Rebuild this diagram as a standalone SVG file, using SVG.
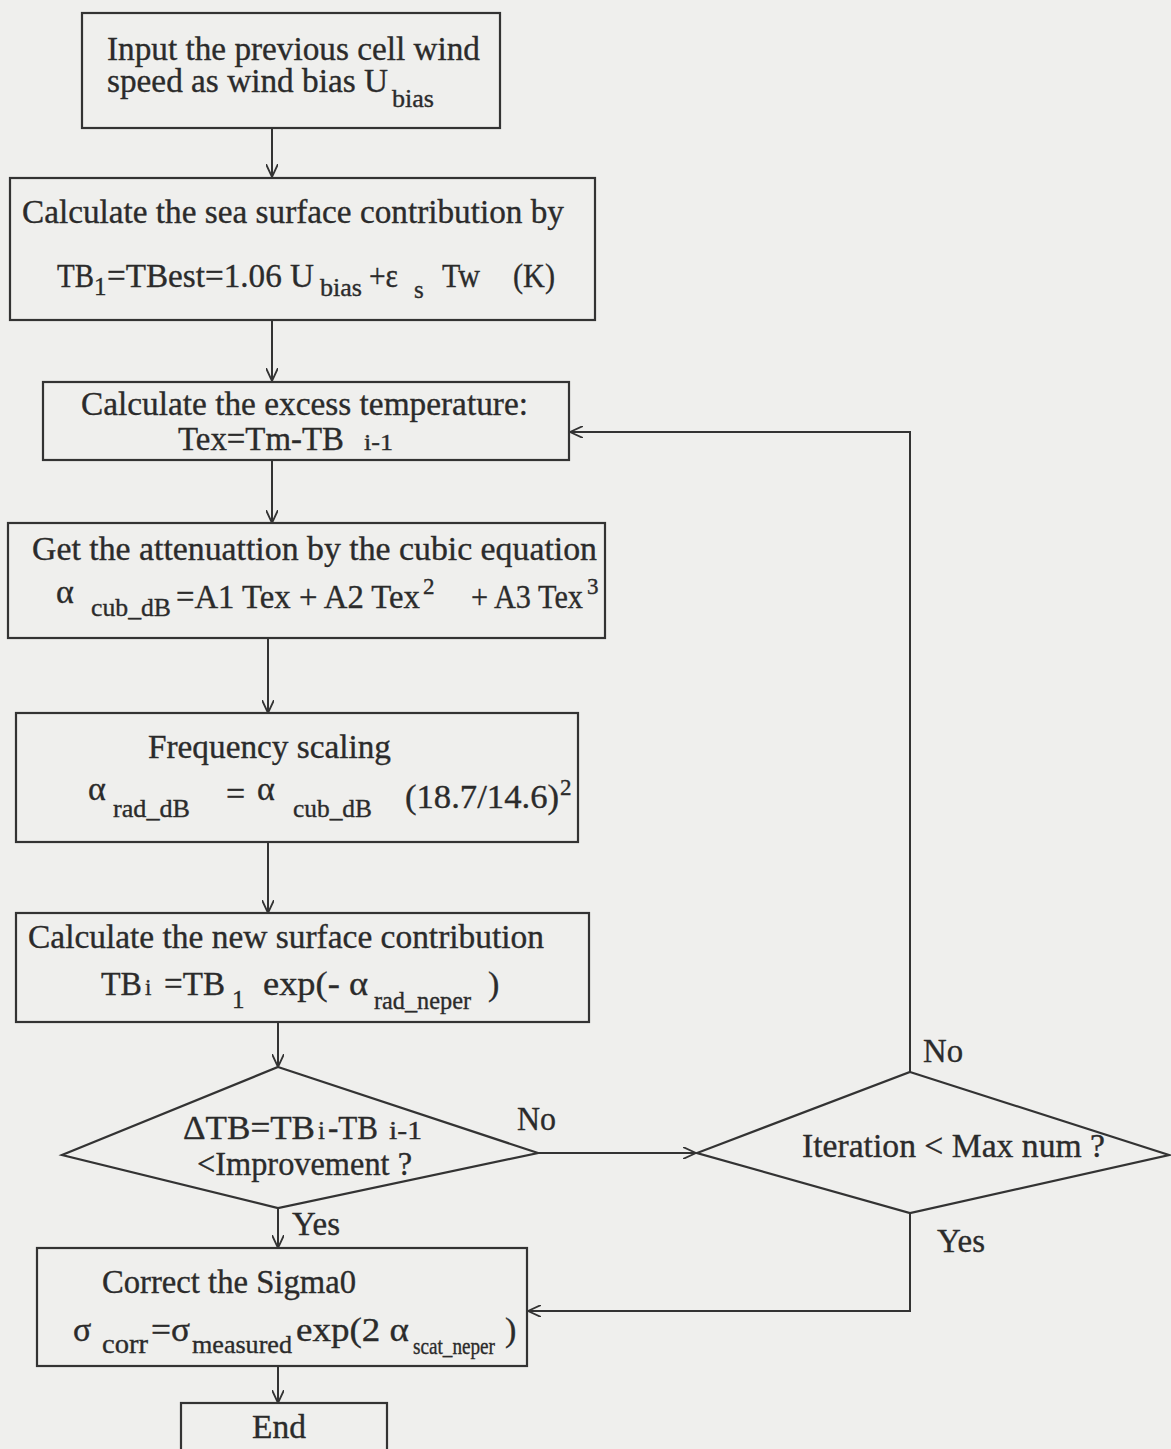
<svg xmlns="http://www.w3.org/2000/svg" width="1171" height="1449" viewBox="0 0 1171 1449">
<defs>
<style>
.bg{fill:#efefed}
.box{fill:none;stroke:#333;stroke-width:2.2}
.ln{fill:none;stroke:#333;stroke-width:2}
text{font-family:"Liberation Serif","Times New Roman",serif;font-size:34px;fill:#2b2b2b;stroke:#2b2b2b;stroke-width:0.35}
.s{font-size:25px}
.ss{font-size:23px}
</style>
<marker id="ah" viewBox="0 0 14 12" refX="13" refY="6" markerWidth="14" markerHeight="12" markerUnits="userSpaceOnUse" orient="auto">
<path d="M0,0 L13,6 L0,12" fill="none" stroke="#333" stroke-width="1.8"/>
</marker>
</defs>
<rect class="bg" x="0" y="0" width="1171" height="1449"/>

<g id="connectors">
<line class="ln" x1="272" y1="128" x2="272" y2="177" marker-end="url(#ah)"/>
<line class="ln" x1="272" y1="320" x2="272" y2="381" marker-end="url(#ah)"/>
<line class="ln" x1="272" y1="460" x2="272" y2="523" marker-end="url(#ah)"/>
<line class="ln" x1="268" y1="638" x2="268" y2="713" marker-end="url(#ah)"/>
<line class="ln" x1="268" y1="842" x2="268" y2="913" marker-end="url(#ah)"/>
<line class="ln" x1="278" y1="1022" x2="278" y2="1067" marker-end="url(#ah)"/>
<line class="ln" x1="278" y1="1208" x2="278" y2="1248" marker-end="url(#ah)"/>
<line class="ln" x1="538" y1="1153" x2="696" y2="1153" marker-end="url(#ah)"/>
<polyline class="ln" points="910,1072 910,432 570,432" marker-end="url(#ah)"/>
<polyline class="ln" points="910,1213 910,1311 528,1311" marker-end="url(#ah)"/>
<line class="ln" x1="278" y1="1366" x2="278" y2="1403" marker-end="url(#ah)"/>
<text x="517" y="1130" textLength="39" lengthAdjust="spacingAndGlyphs">No</text>
<text x="292" y="1235" textLength="48" lengthAdjust="spacingAndGlyphs">Yes</text>
<text x="923" y="1062" textLength="40" lengthAdjust="spacingAndGlyphs">No</text>
<text x="937" y="1252" textLength="48" lengthAdjust="spacingAndGlyphs">Yes</text>
</g>

<g id="n1">
<rect class="box" x="82" y="13" width="418" height="115"/>
<text x="107" y="60" textLength="373" lengthAdjust="spacingAndGlyphs">Input the previous cell wind</text>
<text x="107" y="92" textLength="281" lengthAdjust="spacingAndGlyphs">speed as wind bias U</text>
<text class="s" x="392" y="107" textLength="42" lengthAdjust="spacingAndGlyphs">bias</text>
</g>

<g id="n2">
<rect class="box" x="10" y="178" width="585" height="142"/>
<text x="22" y="223" textLength="542" lengthAdjust="spacingAndGlyphs">Calculate the sea surface contribution by</text>
<text x="57" y="287" textLength="37" lengthAdjust="spacingAndGlyphs">TB</text>
<text class="s" x="94" y="295">1</text>
<text x="107" y="287" textLength="207" lengthAdjust="spacingAndGlyphs">=TBest=1.06 U</text>
<text class="s" x="320" y="296" textLength="42" lengthAdjust="spacingAndGlyphs">bias</text>
<text x="369" y="287" textLength="29" lengthAdjust="spacingAndGlyphs">+ε</text>
<text class="s" x="414" y="298">s</text>
<text x="442" y="287" textLength="38" lengthAdjust="spacingAndGlyphs">Tw</text>
<text x="513" y="287" textLength="42" lengthAdjust="spacingAndGlyphs">(K)</text>
</g>

<g id="n3">
<rect class="box" x="43" y="382" width="526" height="78"/>
<text x="81" y="415" textLength="447" lengthAdjust="spacingAndGlyphs">Calculate the excess temperature:</text>
<text x="178" y="450" textLength="166" lengthAdjust="spacingAndGlyphs">Tex=Tm-TB</text>
<text class="ss" x="364" y="450" textLength="29" lengthAdjust="spacingAndGlyphs">i-1</text>
</g>

<g id="n4">
<rect class="box" x="8" y="523" width="597" height="115"/>
<text x="32" y="560" textLength="565" lengthAdjust="spacingAndGlyphs">Get the attenuattion by the cubic  equation</text>
<text x="56" y="603">α</text>
<text class="s" x="91" y="616" textLength="80" lengthAdjust="spacingAndGlyphs">cub_dB</text>
<text x="176" y="608" textLength="244" lengthAdjust="spacingAndGlyphs">=A1 Tex + A2 Tex</text>
<text class="ss" x="423" y="594">2</text>
<text x="471" y="608" textLength="112" lengthAdjust="spacingAndGlyphs">+ A3 Tex</text>
<text class="ss" x="587" y="594">3</text>
</g>

<g id="n5">
<rect class="box" x="16" y="713" width="562" height="129"/>
<text x="148" y="758" textLength="243" lengthAdjust="spacingAndGlyphs">Frequency scaling</text>
<text x="88" y="800">α</text>
<text class="s" x="113" y="817" textLength="77" lengthAdjust="spacingAndGlyphs">rad_dB</text>
<text x="226" y="805">=</text>
<text x="257" y="800">α</text>
<text class="s" x="293" y="817" textLength="79" lengthAdjust="spacingAndGlyphs">cub_dB</text>
<text x="405" y="808" textLength="154" lengthAdjust="spacingAndGlyphs">(18.7/14.6)</text>
<text class="ss" x="560" y="795">2</text>
</g>

<g id="n6">
<rect class="box" x="16" y="913" width="573" height="109"/>
<text x="28" y="948" textLength="516" lengthAdjust="spacingAndGlyphs">Calculate the new surface contribution</text>
<text x="101" y="995" textLength="41" lengthAdjust="spacingAndGlyphs">TB</text>
<text class="ss" x="145" y="995">i</text>
<text x="164" y="995" textLength="61" lengthAdjust="spacingAndGlyphs">=TB</text>
<text class="s" x="232" y="1008">1</text>
<text x="263" y="995" textLength="105" lengthAdjust="spacingAndGlyphs">exp(- α</text>
<text class="s" x="374" y="1009" textLength="97" lengthAdjust="spacingAndGlyphs">rad_neper</text>
<text x="488" y="995">)</text>
</g>

<g id="n7">
<polygon class="box" points="278,1067 538,1153 278,1208 62,1155"/>
<text x="183" y="1139" textLength="132" lengthAdjust="spacingAndGlyphs">ΔTB=TB</text>
<text class="s" x="318" y="1139">i</text>
<text x="328" y="1139" textLength="50" lengthAdjust="spacingAndGlyphs">-TB</text>
<text class="s" x="389" y="1139" textLength="33" lengthAdjust="spacingAndGlyphs">i-1</text>
<text x="197" y="1175" textLength="215" lengthAdjust="spacingAndGlyphs">&lt;Improvement ?</text>
</g>

<g id="n8">
<polygon class="box" points="910,1072 1169,1155 910,1213 697,1153"/>
<text x="802" y="1157" textLength="303" lengthAdjust="spacingAndGlyphs">Iteration &lt; Max num ?</text>
</g>

<g id="n9">
<rect class="box" x="37" y="1248" width="490" height="118"/>
<text x="102" y="1293" textLength="254" lengthAdjust="spacingAndGlyphs">Correct the Sigma0</text>
<text x="73" y="1341">σ</text>
<text x="102" y="1353" style="font-size:27px" textLength="46" lengthAdjust="spacingAndGlyphs">corr</text>
<text x="151" y="1341" textLength="39" lengthAdjust="spacingAndGlyphs">=σ</text>
<text x="192" y="1353" style="font-size:26px" textLength="100" lengthAdjust="spacingAndGlyphs">measured</text>
<text x="296" y="1341" textLength="113" lengthAdjust="spacingAndGlyphs">exp(2 α</text>
<text class="ss" x="413" y="1354" textLength="82" lengthAdjust="spacingAndGlyphs">scat_neper</text>
<text x="505" y="1341">)</text>
</g>

<g id="n10">
<rect class="box" x="181" y="1403" width="206" height="60"/>
<text x="252" y="1438" textLength="54" lengthAdjust="spacingAndGlyphs">End</text>
</g>
</svg>
